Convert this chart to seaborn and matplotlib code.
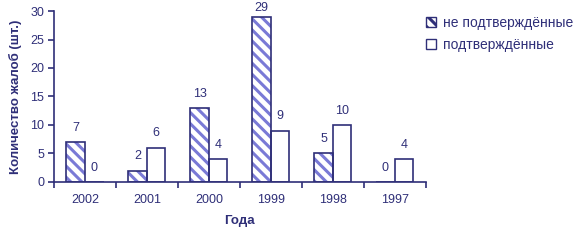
import matplotlib
matplotlib.use("Agg")
import matplotlib.pyplot as plt
import seaborn as sns
import pandas as pd
from matplotlib.patches import Patch

years = ["2002", "2001", "2000", "1999", "1998", "1997"]
unconfirmed = [7, 2, 13, 29, 5, 0]
confirmed = [0, 6, 4, 9, 10, 4]
series_names = ["не подтверждённые", "подтверждённые"]
y_ticks = [0, 5, 10, 15, 20, 25, 30]

NAVY = "#2f2f78"
HATCH = "#7a7ad6"

sns.set_theme(style="white")
plt.rcParams["font.family"] = ["Liberation Sans", "DejaVu Sans"]
plt.rcParams["hatch.linewidth"] = 2.2

df = pd.DataFrame({
    "year": years * 2,
    "value": unconfirmed + confirmed,
    "series": [series_names[0]] * len(years) + [series_names[1]] * len(years),
})

fig = plt.figure(figsize=(5.8, 2.4), dpi=100)
fig.patch.set_facecolor("white")
ax = fig.add_axes([0.093, 0.242, 0.641, 0.712])

# hatch layer
sns.barplot(data=df, x="year", y="value", hue="series", order=years,
            hue_order=series_names, width=0.6, ax=ax, legend=False,
            palette=["white", "white"], saturation=1, errorbar=None)
for p in ax.containers[0]:
    p.set_hatch("\\\\\\")
    p.set_edgecolor(HATCH)
    p.set_linewidth(0)
for p in ax.containers[1]:
    p.set_linewidth(0)

# outline layer
sns.barplot(data=df, x="year", y="value", hue="series", order=years,
            hue_order=series_names, width=0.6, ax=ax, legend=False,
            fill=False, errorbar=None, saturation=1, palette=[NAVY, NAVY])
for c in ax.containers[2:]:
    for p in c:
        p.set_edgecolor(NAVY)
        p.set_linewidth(1.2)

for c in ax.containers[:2]:
    anns = ax.bar_label(c, padding=6, color=NAVY, fontsize=9)
    for a, p in zip(anns, c):
        if p.get_height() > 27:
            a.xyann = (0, 2)

ax.set_ylim(0, 30)
ax.set_yticks(y_ticks)
ax.set_xlim(-0.5, len(years) - 0.5)
ax.set_xticks(range(len(years)))
ax.set_xticklabels(years)
ax.set_xticks([i - 0.5 for i in range(len(years) + 1)], minor=True)
ax.tick_params(axis="x", which="major", length=0, pad=9, colors=NAVY, labelsize=9)
ax.tick_params(axis="x", which="minor", length=4, width=1.2, color=NAVY, direction="out", bottom=True)
ax.tick_params(axis="y", length=4, width=1.2, color=NAVY, direction="out", left=True,
               labelcolor=NAVY, labelsize=9, pad=3)

for s in ["top", "right"]:
    ax.spines[s].set_visible(False)
for s in ["left", "bottom"]:
    ax.spines[s].set_color(NAVY)
    ax.spines[s].set_linewidth(1.2)

ax.set_xlabel("Года", color=NAVY, fontsize=9.5, fontweight="bold", labelpad=6)
ax.set_ylabel("Количество жалоб (шт.)", color=NAVY, fontsize=9.5, fontweight="bold", labelpad=6)

handles = [
    Patch(facecolor="white", edgecolor=NAVY, hatch="\\\\\\", linewidth=1.0),
    Patch(facecolor="white", edgecolor=NAVY, linewidth=1.0),
]
leg = fig.legend(handles, series_names, loc="upper left", bbox_to_anchor=(0.713, 0.985),
                 frameon=False, fontsize=10, handlelength=0.75, handleheight=0.75,
                 handletextpad=0.45, labelspacing=0.55, labelcolor=NAVY)

fig.savefig("out.png", dpi=100, facecolor="white")
